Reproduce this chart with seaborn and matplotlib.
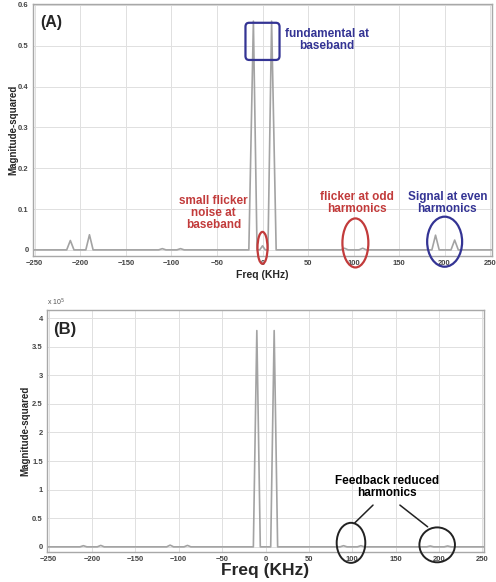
import matplotlib
matplotlib.use("Agg")
import matplotlib.pyplot as plt
import seaborn as sns
from matplotlib.patches import Ellipse, FancyBboxPatch
from matplotlib.ticker import FuncFormatter

# ---- spectrum values ----
freq_a = [-252, -215, -211, -207, -194, -190, -186, -114, -110, -106, -94, -90, -86,
          -15, -10, -6, -3, 0, 3, 6, 10, 15,
          86, 90, 94, 106, 110, 114, 186, 190, 194, 207, 211, 215, 252]
mag_a = [0, 0, 0.023, 0, 0, 0.037, 0, 0, 0.003, 0, 0, 0.003, 0,
         0, 0.56, 0, 0, 0.01, 0, 0, 0.56, 0,
         0, 0.004, 0, 0, 0.004, 0, 0, 0.036, 0, 0, 0.024, 0, 0]

freq_b = [-252, -214, -210, -206, -194, -190, -186, -114, -110, -106, -94, -90, -86,
          -14, -10, -6, 6, 10, 14,
          86, 90, 94, 106, 110, 114, 186, 190, 194, 206, 210, 214, 252]
mag_b = [0, 0, 0.02, 0, 0, 0.025, 0, 0, 0.03, 0, 0, 0.025, 0,
         0, 3.78, 0, 0, 3.78, 0,
         0, 0.02, 0, 0, 0.02, 0, 0, 0.015, 0, 0, 0.015, 0, 0]

x_ticks = [-250, -200, -150, -100, -50, 0, 50, 100, 150, 200, 250]
y_ticks_a = [0, 0.1, 0.2, 0.3, 0.4, 0.5, 0.6]
y_ticks_b = [0, 0.5, 1, 1.5, 2, 2.5, 3, 3.5, 4]

sns.set_theme(style="whitegrid")
plt.rcParams["font.family"] = ["Liberation Sans", "DejaVu Sans"]

LINE = "#a3a3a3"
RED = "#c23b3b"
BLUE = "#343494"
NOTE = dict(fontsize=8.5, fontweight="bold", ha="center", va="center",
            linespacing=1.0)


def _style(ax, yticks):
    ax.set_xlim(-252, 252)
    ax.set_xticks(x_ticks)
    ax.set_yticks(yticks)
    ax.yaxis.set_major_formatter(FuncFormatter(lambda v, p: f"{v:g}"))
    ax.grid(True, color="#e0e0e0", lw=0.7)
    ax.tick_params(length=0, labelsize=5.5, labelcolor="#444444", pad=3)
    for lab in ax.get_xticklabels() + ax.get_yticklabels():
        lab.set_fontweight("bold")
    for sp in ax.spines.values():
        sp.set_color("#a8a8a8")
        sp.set_linewidth(1.0)


def _ring(ax, xy, w, h, color, lw=1.6):
    ax.add_patch(Ellipse(xy, w, h, fill=False, ec=color, lw=lw, zorder=5,
                         clip_on=False))


fig = plt.figure(figsize=(4.96, 5.82), dpi=100)

# ---- panel A ----
ax = fig.add_axes([33 / 496, 1 - 256 / 582, 459 / 496, 252 / 582])
sns.lineplot(x=freq_a, y=mag_a, ax=ax, color=LINE, lw=1.2, estimator=None)
ax.set_ylim(-0.015, 0.602)
_style(ax, y_ticks_a)
ax.set_xlabel("Freq (KHz)", fontsize=7.5, fontweight="bold", labelpad=2)
ax.set_ylabel("Magnitude-squared", fontsize=7, fontweight="bold", labelpad=0)
ax.text(0.015, 0.955, "(A)", transform=ax.transAxes, fontsize=11.5,
        fontweight="bold", va="top")

ax.add_patch(FancyBboxPatch((-18.7, 0.465), 37.4, 0.091,
                            boxstyle="round,pad=0,rounding_size=4",
                            mutation_aspect=0.0024, fill=False,
                            ec=BLUE, lw=1.6, zorder=5))
_ring(ax, (0, 0.005), 11, 0.078, RED)
_ring(ax, (102, 0.017), 28.5, 0.12, RED)
_ring(ax, (200, 0.02), 38.4, 0.1225, BLUE)

ax.text(71, 0.514, "fundamental at\nbaseband", color=BLUE, **NOTE)
ax.text(-54, 0.09, "small flicker\nnoise at\nbaseband", color=RED, **NOTE)
ax.text(104, 0.115, "flicker at odd\nharmonics", color=RED, **NOTE)
ax.text(203, 0.115, "Signal at even\nharmonics", color=BLUE, **NOTE)

# ---- panel B ----
bx = fig.add_axes([47 / 496, 1 - 552 / 582, 437 / 496, 242 / 582])
sns.lineplot(x=freq_b, y=mag_b, ax=bx, color=LINE, lw=1.2, estimator=None)
bx.set_ylim(-0.09, 4.14)
_style(bx, y_ticks_b)
bx.set_xlabel("Freq (KHz)", fontsize=12.5, fontweight="bold", labelpad=0)
bx.set_ylabel("Magnitude-squared", fontsize=7, fontweight="bold", labelpad=1)
bx.text(0.0, 1.01, r"x 10$^5$", transform=bx.transAxes, fontsize=5,
        color="#555555", va="bottom")
bx.text(0.015, 0.95, "(B)", transform=bx.transAxes, fontsize=12,
        fontweight="bold", va="top")

bx.text(140, 1.05, "Feedback reduced\nharmonics", color="black", **NOTE)
bx.plot([124, 103], [0.73, 0.42], color="#222222", lw=1.1)
bx.plot([155, 187], [0.73, 0.35], color="#222222", lw=1.1)
_ring(bx, (98.6, 0.07), 33, 0.70, "#222222", lw=1.4)
_ring(bx, (198, 0.035), 41, 0.61, "#222222", lw=1.4)

fig.savefig("out.png", dpi=100)
